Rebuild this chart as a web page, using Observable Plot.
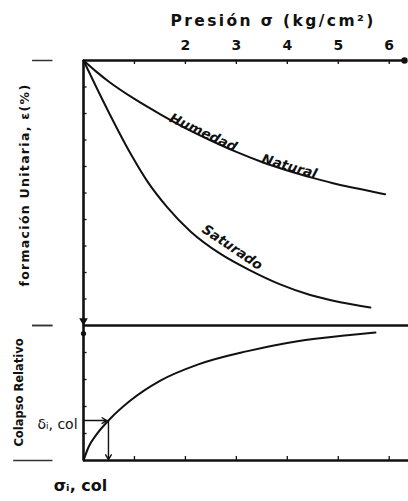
<!DOCTYPE html>
<html>
<head>
<meta charset="utf-8">
<script src="https://cdn.jsdelivr.net/npm/d3@7"></script>
<script src="https://cdn.jsdelivr.net/npm/@observablehq/plot@0.6"></script>
<style>
  body { margin: 0; background: #fff; }
  #wrap { position: relative; width: 408px; height: 501px; overflow: hidden; background: #fff; }
  #wrap svg { position: absolute; left: 0; top: 0; }
</style>
</head>
<body>
<div id="wrap"></div>
<script>
// ---- data ----
const sigmaTicks = [1, 2, 3, 4, 5, 6];
const sigmaTickLabels = ["", "2", "3", "4", "5", "6"];
const epsTicks = [1, 2, 3, 4, 5, 6, 7, 8, 9];
const colTicks = [1, 2, 3, 4];

const humSigma = [0, 0.25, 0.5, 1, 1.5, 2, 2.5, 3, 3.5, 4, 4.5, 5, 5.5, 5.92];
const humEps   = [0, 0.42, 0.8, 1.45, 2.02, 2.55, 3.02, 3.45, 3.83, 4.15, 4.43, 4.68, 4.88, 5.05];

const satSigma = [0, 0.25, 0.5, 0.92, 1.25, 1.65, 2.10, 2.69, 3.27, 3.86, 4.45, 5.04, 5.63];
const satEps   = [0, 1.0, 1.97, 3.5, 4.55, 5.55, 6.45, 7.3, 7.92, 8.45, 8.85, 9.12, 9.32];

const colSigma = [0, 0.1, 0.25, 0.49, 0.92, 1.5, 2.24, 3.22, 4.2, 5.18, 5.73];
const colVal   = [0, 0.5, 0.95, 1.48, 2.22, 2.95, 3.55, 4.05, 4.42, 4.64, 4.74];

const sigmaCol = 0.49;   // σi,col
const deltaCol = 1.48;   // δi,col

const titleText = "Presión σ (kg/cm²)";
const yLabelTop = "formación Unitaria, ε(%)";
const yLabelBottom = "Colapso Relativo";
const curveLabels = [
  {text: "Humedad", x: 2.35, y: 2.72, rotate: 25},
  {text: "Natural", x: 4.04, y: 4.0, rotate: 16},
  {text: "Saturado", x: 2.92, y: 7.05, rotate: 34}
];

const hum = humSigma.map((s, i) => ({s, e: humEps[i]}));
const sat = satSigma.map((s, i) => ({s, e: satEps[i]}));
const col = colSigma.map((s, i) => ({s, c: colVal[i]}));

const FONT = "DejaVu Sans";
const ink = "#111";

// ---- upper panel ----
const upperPanel = Plot.plot({
  width: 408, height: 501,
  marginTop: 60, marginBottom: 176, marginLeft: 83, marginRight: 4,
  style: {background: "transparent", fontFamily: FONT, color: ink},
  x: {domain: [0, 6.3], axis: null},
  y: {domain: [0, 10], reverse: true, axis: null},
  marks: [
    Plot.ruleY([0], {x1: 0, x2: 6.3, stroke: ink, strokeWidth: 2.6}),
    Plot.ruleX([0], {y1: 0, y2: 10, stroke: ink, strokeWidth: 2.6}),
    Plot.ruleY([10], {x1: 0, x2: 6.4, stroke: ink, strokeWidth: 2.6}),
    Plot.ruleX(sigmaTicks, {y1: 0, y2: 0.15, stroke: ink, strokeWidth: 1.3}),
    Plot.ruleY(epsTicks, {x1: 0, x2: 0.07, stroke: ink, strokeWidth: 1.3}),
    Plot.ruleY([0, 10], {x1: -1.0, x2: -0.6, stroke: "#333", strokeWidth: 1.5}),
    Plot.text(sigmaTicks, {x: d => d, y: 0, text: (d, i) => sigmaTickLabels[i], dy: -15, fontSize: 14, fontWeight: "bold", fill: ink}),
    Plot.text([titleText], {x: 3.72, y: 0, dy: -39, fontSize: 15.5, fontWeight: "bold", fill: ink}),
    Plot.text([yLabelTop], {x: -1.15, y: 4.7, rotate: -90, fontSize: 12.5, fontWeight: "bold", fill: ink}),
    Plot.line(hum, {x: "s", y: "e", curve: "monotone-x", stroke: ink, strokeWidth: 2}),
    Plot.line(sat, {x: "s", y: "e", curve: "monotone-x", stroke: ink, strokeWidth: 2}),
    Plot.text(curveLabels, {x: "x", y: "y", text: "text", rotate: "rotate", fontSize: 13.5, fontWeight: "bold", fontStyle: "italic", fill: ink}),
    Plot.dot([[6.3, 0]], {x: d => d[0], y: d => d[1], r: 3.2, fill: ink, stroke: null}),
    Plot.dot([[0, 9.82]], {x: d => d[0], y: d => d[1], symbol: "triangle", rotate: 180, r: 3.2, fill: ink, stroke: null})
  ]
});

// ---- lower panel ----
const lowerPanel = Plot.plot({
  width: 408, height: 501,
  marginTop: 325, marginBottom: 41, marginLeft: 83, marginRight: 4,
  style: {background: "transparent", fontFamily: FONT, color: ink},
  x: {domain: [0, 6.3], axis: null},
  y: {domain: [0, 5], axis: null},
  marks: [
    Plot.ruleY([0], {x1: 0, x2: 6.4, stroke: ink, strokeWidth: 2.6}),
    Plot.ruleX([0], {y1: 0, y2: 5, stroke: ink, strokeWidth: 2.6}),
    Plot.ruleX(sigmaTicks, {y1: 0, y2: 0.15, stroke: ink, strokeWidth: 1.3}),
    Plot.ruleY(colTicks, {x1: 0, x2: 0.07, stroke: ink, strokeWidth: 1.3}),
    Plot.ruleY([5], {x1: -1.0, x2: -0.6, stroke: "#333", strokeWidth: 1.5}),
    Plot.ruleY([0], {x1: -1.37, x2: -0.6, stroke: "#333", strokeWidth: 1.5}),
    Plot.line(col, {x: "s", y: "c", curve: "monotone-x", stroke: ink, strokeWidth: 2}),
    Plot.arrow([{x1: 0, y1: deltaCol, x2: sigmaCol - 0.03, y2: deltaCol}], {x1: "x1", y1: "y1", x2: "x2", y2: "y2", stroke: ink, strokeWidth: 1.4, headLength: 6}),
    Plot.arrow([{x1: sigmaCol, y1: deltaCol, x2: sigmaCol, y2: 0.03}], {x1: "x1", y1: "y1", x2: "x2", y2: "y2", stroke: ink, strokeWidth: 1.4, headLength: 6}),
    Plot.dot([[0, 4.7]], {x: d => d[0], y: d => d[1], r: 2.6, fill: ink, stroke: null}),
    Plot.text([yLabelBottom], {x: -1.25, y: 2.52, rotate: -90, fontSize: 11.5, fontWeight: "bold", fill: ink}),
    Plot.text(["δᵢ, col"], {x: -0.51, y: 1.33, fontSize: 14, fill: ink}),
    Plot.text(["σᵢ, col"], {x: -0.06, y: -0.93, fontSize: 16, fontWeight: "bold", fill: ink})
  ]
});

const wrap = document.getElementById("wrap");
wrap.appendChild(upperPanel);
wrap.appendChild(lowerPanel);

// widen the hand-lettered headings (letter spacing only)
const spacing = new Map([[titleText, "2.4px"], [yLabelTop, "1.3px"]]);
d3.select(upperPanel).selectAll("text").each(function() {
  const s = spacing.get(this.textContent);
  if (s) this.style.letterSpacing = s;
});
</script>
</body>
</html>
